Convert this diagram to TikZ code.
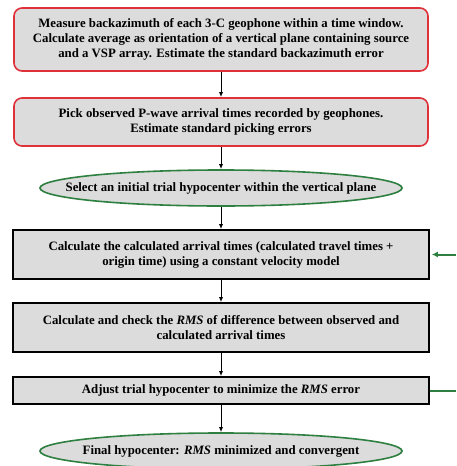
\documentclass[tikz,border=0pt]{standalone}
\usepackage{fontspec}
\setmainfont{Liberation Serif}
\usetikzlibrary{shapes.geometric,arrows.meta}
\definecolor{boxgray}{HTML}{DCDCDC}
\definecolor{redb}{HTML}{E0303A}
\definecolor{greenb}{HTML}{2E8040}
\begin{document}
\begin{tikzpicture}[x=1pt,y=1pt,
  every node/.style={font=\fontsize{12.8}{15}\selectfont\bfseries, align=center, inner sep=0pt},
  redbox/.style={draw=redb, line width=1.6pt, fill=boxgray, rounded corners=8pt, minimum width=414pt},
  blackbox/.style={draw=black, line width=1.6pt, fill=boxgray, minimum width=416pt},
  oval/.style={ellipse, draw=greenb, line width=1.6pt, fill=boxgray, minimum width=362pt},
  flow/.style={-{Latex[length=5pt,width=4pt]}, line width=1pt, black},
  loop/.style={greenb, line width=2pt}
]
\useasboundingbox (0,0) rectangle (456,-466);
\node[redbox, minimum height=63pt] (b1) at (221,-39.5) {Measure backazimuth of each 3-C geophone within a time window.\\Calculate average as orientation of a vertical plane containing source\\and a VSP array. Estimate the standard backazimuth error};
\node[redbox, minimum height=48pt] (b2) at (221,-122) {Pick observed P-wave arrival times recorded by geophones.\\Estimate standard picking errors};
\node[oval, minimum height=36pt] (e1) at (221,-188) {};
\node (e1t) at (e1.center) {Select an initial trial hypocenter within the vertical plane};
\node[blackbox, minimum height=49pt] (b3) at (221,-254.5) {Calculate the calculated arrival times (calculated travel times +\\origin time) using a constant velocity model};
\node[blackbox, minimum height=49pt] (b4) at (221,-327.5) {Calculate and check the \textit{RMS} of difference between observed and\\calculated arrival times};
\node[blackbox, minimum height=27pt] (b5) at (221,-390.5) {Adjust trial hypocenter to minimize the \textit{RMS} error};
\node[oval, minimum height=36pt] (e2) at (221,-451) {};
\node (e2t) at (221,-451) {Final hypocenter: \textit{RMS} minimized and convergent};
\draw[flow] (b1) -- (b2);
\draw[flow] (b2) -- (e1);
\draw[flow] (e1) -- (b3);
\draw[flow] (b3) -- (b4);
\draw[flow] (b4) -- (b5);
\draw[flow] (b5) -- (e2);
\coordinate (in) at (456,-254.5);
\coordinate (out) at (456,-390.5);
\draw[loop, -{Latex[length=6pt,width=6pt]}] (in) -- ([xshift=2pt]b3.east);
\draw[loop] (b5.east) -- (out);
\end{tikzpicture}
\end{document}
